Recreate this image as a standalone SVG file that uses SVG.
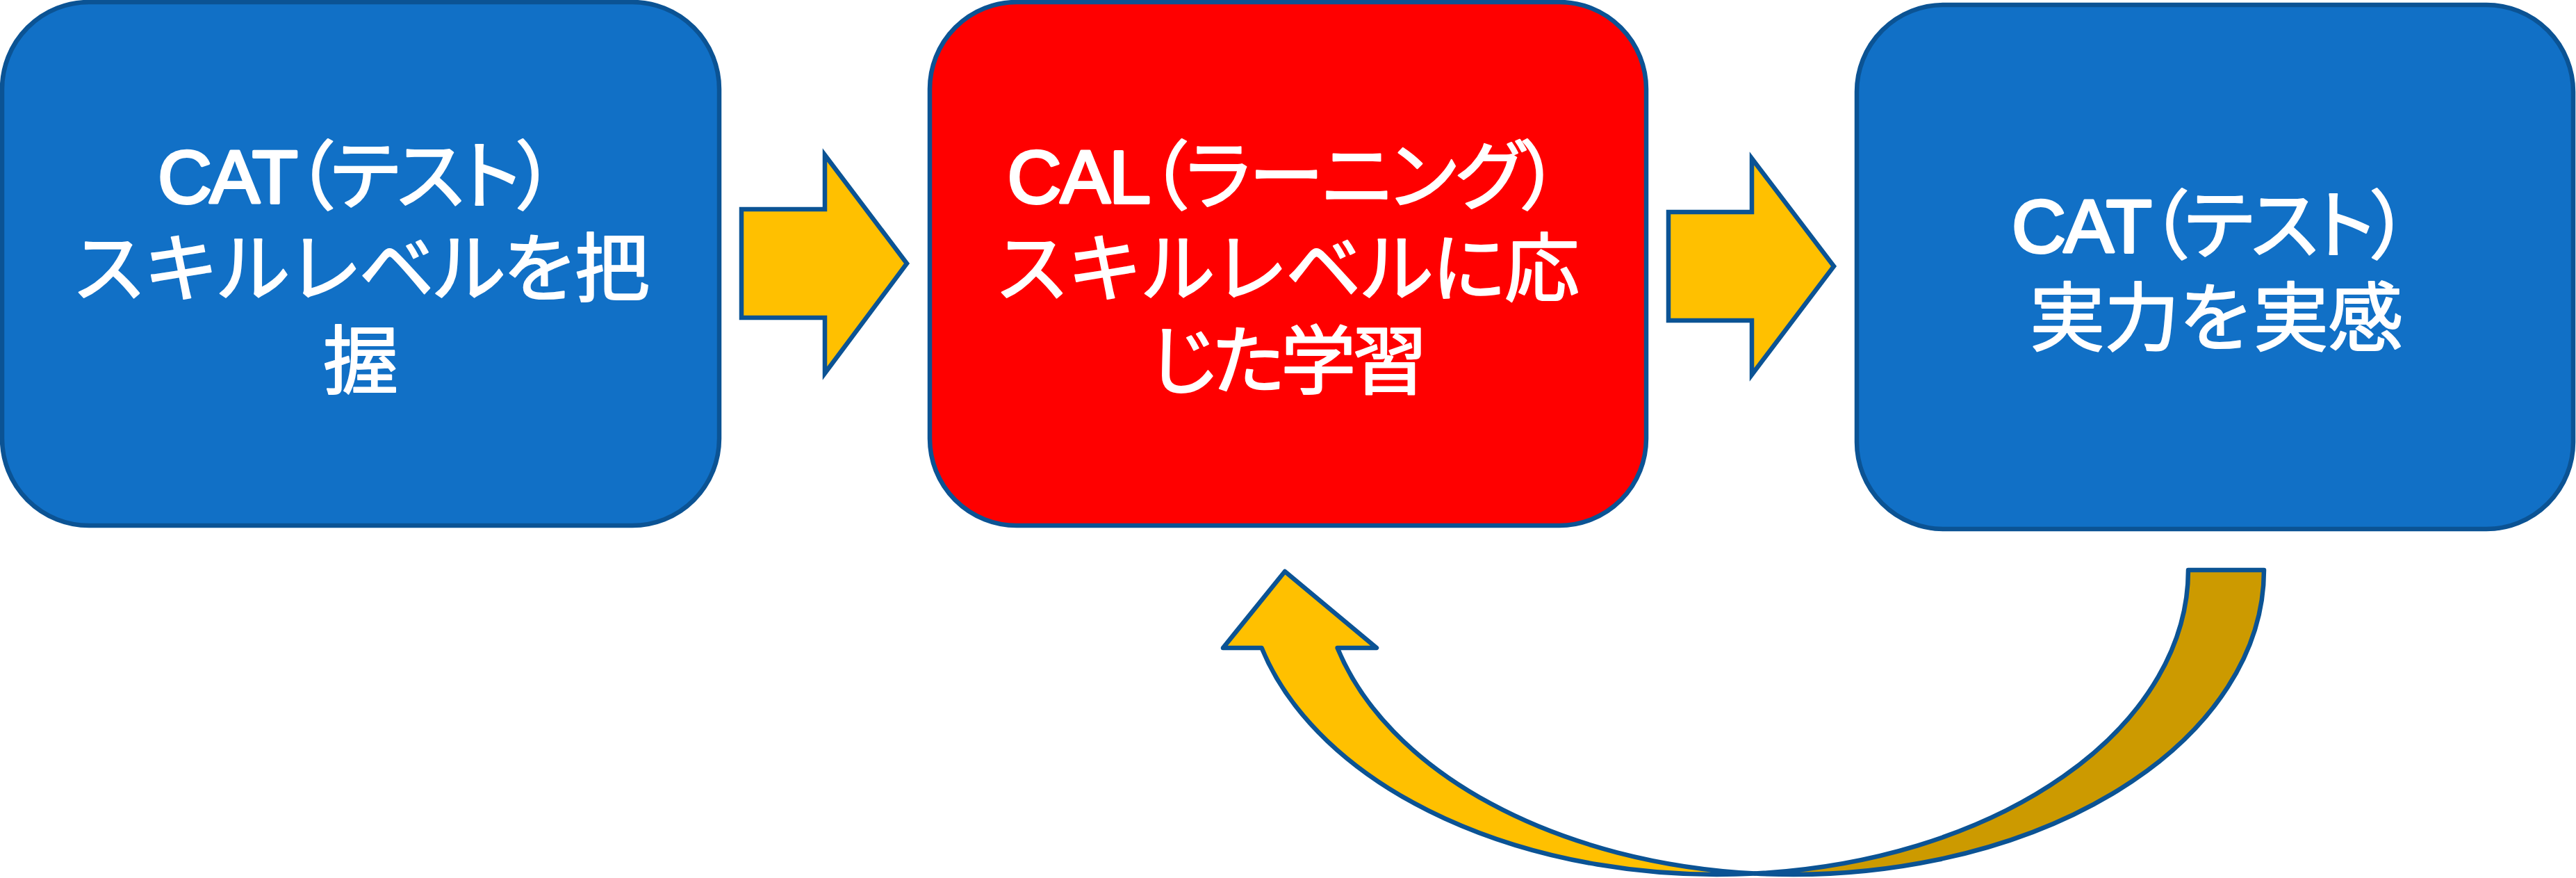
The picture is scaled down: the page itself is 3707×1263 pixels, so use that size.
<svg xmlns="http://www.w3.org/2000/svg" width="3707" height="1263" viewBox="0 0 3707 1263">
<style>
.box{stroke:#0B5394;stroke-width:6.5}
.blue{fill:#1170C6}
.red{fill:#FF0000}
.arrow{fill:#FFC000;stroke:#0B5394;stroke-width:6.5;stroke-linejoin:miter}
.curve{stroke:#0B5394;stroke-width:6.5;stroke-linejoin:round}
.light{fill:#FFC000}
.dark{fill:#CC9A00}
.t{font-family:"Liberation Sans","Noto Sans CJK JP",sans-serif;font-size:108px;font-weight:normal;fill:#FFFFFF;stroke:#FFFFFF;stroke-width:2.2;stroke-linejoin:round;text-anchor:middle}
.b{stroke-width:4}
.p{font-feature-settings:"palt"}
</style>
<rect x="0" y="0" width="3707" height="1263" fill="#FFFFFF"/>
<g id="node-cat-1">
<rect class="box blue" x="3" y="3" width="1032" height="753" rx="125" ry="125"/>
<text class="t p" x="513" y="292" textLength="572" lengthAdjust="spacing"><tspan class="b">CAT</tspan>（テスト）</text>
<text class="t" x="519" y="425" textLength="832" lengthAdjust="spacing">スキルレベルを把</text>
<text class="t" x="519" y="558">握</text>
</g>
<g id="node-cal">
<rect class="box red" x="1338" y="3" width="1031" height="753" rx="125" ry="125"/>
<text class="t p" x="1847" y="292" textLength="795" lengthAdjust="spacing"><tspan class="b">CAL</tspan>（ラーニング）</text>
<text class="t" x="1852" y="425" textLength="842" lengthAdjust="spacing">スキルレベルに応</text>
<text class="t p" x="1855" y="558" textLength="398" lengthAdjust="spacing">じた学習</text>
</g>
<g id="node-cat-2">
<rect class="box blue" x="2672" y="7" width="1031" height="754" rx="125" ry="125"/>
<text class="t p" x="3181" y="363" textLength="572" lengthAdjust="spacing"><tspan class="b">CAT</tspan>（テスト）</text>
<text class="t" x="3189.5" y="496" textLength="537" lengthAdjust="spacing">実力を実感</text>
</g>
<g id="connectors">
<path class="arrow" d="M1067 301 L1187 301 L1187 223 L1305 379 L1187 537 L1187 457 L1067 457 Z"/>
<path class="arrow" d="M2401 305 L2521 305 L2521 228 L2639 383 L2521 539 L2521 461 L2401 461 Z"/>
<path class="curve dark" d="M3149 820 L3258 820 A678 438 0 0 1 2525.5 1256.5 A678 438 0 0 0 3149 820 Z"/>
<path class="curve light" d="M1815.6 932 L1760 932 L1849 822 L1981 932 L1924.6 932 A678 438 0 0 0 2525.5 1256.5 A678 438 0 0 1 1815.6 932 Z"/>
</g>
</svg>
